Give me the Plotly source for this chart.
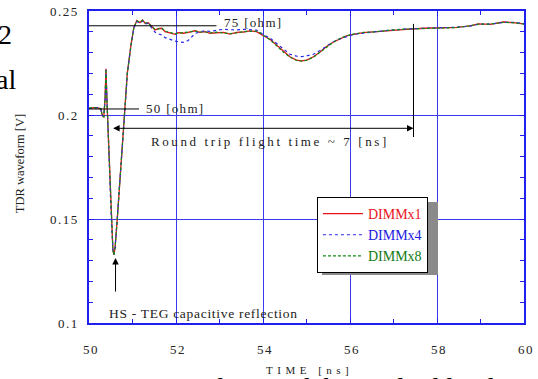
import plotly.graph_objects as go

# ---------------- data ----------------
t_ns = [50.00, 50.10, 50.20, 50.27, 50.31, 50.34, 50.37, 50.39, 50.41, 50.45,
        50.50, 50.55, 50.575, 50.60, 50.65, 50.72, 50.80, 50.88, 50.96, 51.03,
        51.10, 51.17, 51.23, 51.29, 51.36, 51.44, 51.52, 51.59, 51.67, 51.75,
        51.86, 51.98, 52.05, 52.17, 52.28, 52.44, 52.55, 52.67, 52.78, 52.94,
        53.09, 53.24, 53.40, 53.55, 53.70, 53.85, 53.93, 54.01, 54.16, 54.31,
        54.47, 54.62, 54.77, 54.89, 55.00, 55.16, 55.31, 55.46, 55.62, 55.77,
        55.92, 56.08, 56.31, 56.61, 56.92, 57.30, 57.69, 58.07, 58.45, 58.76,
        58.95, 59.22, 59.53, 59.76, 60.00]

dimm_x1 = [0.2032, 0.2035, 0.2034, 0.2030, 0.1995, 0.1992, 0.2080, 0.2222, 0.2080, 0.1850,
           0.1560, 0.1350, 0.1328, 0.1365, 0.1500, 0.1720, 0.1950, 0.2200, 0.2330, 0.2420,
           0.2454, 0.2444, 0.2457, 0.2441, 0.2444, 0.2425, 0.2409, 0.2415, 0.2417, 0.2401,
           0.2393, 0.2388, 0.2396, 0.2393, 0.2397, 0.2405, 0.2397, 0.2401, 0.2393, 0.2396,
           0.2397, 0.2389, 0.2397, 0.2399, 0.2404, 0.2401, 0.2393, 0.2381, 0.2364, 0.2336,
           0.2304, 0.2280, 0.2264, 0.2260, 0.2264, 0.2280, 0.2303, 0.2329, 0.2351, 0.2367,
           0.2380, 0.2388, 0.2396, 0.2401, 0.2407, 0.2412, 0.2417, 0.2418, 0.2421, 0.2428,
           0.2438, 0.2436, 0.2447, 0.2444, 0.2438]

dimm_x4 = [0.2031, 0.2034, 0.2035, 0.2029, 0.1996, 0.1993, 0.2075, 0.2218, 0.2085, 0.1855,
           0.1565, 0.1352, 0.1330, 0.1362, 0.1495, 0.1715, 0.1945, 0.2195, 0.2325, 0.2418,
           0.2450, 0.2442, 0.2452, 0.2438, 0.2440, 0.2420, 0.2398, 0.2390, 0.2385, 0.2372,
           0.2362, 0.2355, 0.2352, 0.2349, 0.2358, 0.2392, 0.2400, 0.2405, 0.2402, 0.2408,
           0.2412, 0.2410, 0.2409, 0.2412, 0.2410, 0.2408, 0.2398, 0.2385, 0.2370, 0.2345,
           0.2315, 0.2292, 0.2283, 0.2281, 0.2284, 0.2292, 0.2310, 0.2332, 0.2352, 0.2366,
           0.2378, 0.2387, 0.2394, 0.2402, 0.2408, 0.2414, 0.2416, 0.2419, 0.2422, 0.2427,
           0.2436, 0.2437, 0.2445, 0.2445, 0.2440]

dimm_x8 = [0.2033, 0.2036, 0.2033, 0.2031, 0.1994, 0.1991, 0.2078, 0.2220, 0.2082, 0.1852,
           0.1562, 0.1348, 0.1327, 0.1363, 0.1498, 0.1718, 0.1948, 0.2198, 0.2328, 0.2419,
           0.2452, 0.2446, 0.2455, 0.2443, 0.2442, 0.2427, 0.2411, 0.2413, 0.2419, 0.2403,
           0.2395, 0.2390, 0.2394, 0.2395, 0.2399, 0.2403, 0.2399, 0.2399, 0.2395, 0.2398,
           0.2395, 0.2391, 0.2395, 0.2401, 0.2402, 0.2403, 0.2395, 0.2383, 0.2362, 0.2334,
           0.2302, 0.2278, 0.2262, 0.2259, 0.2263, 0.2278, 0.2301, 0.2327, 0.2350, 0.2368,
           0.2381, 0.2389, 0.2397, 0.2400, 0.2408, 0.2413, 0.2416, 0.2419, 0.2420, 0.2429,
           0.2437, 0.2437, 0.2446, 0.2443, 0.2437]

x_ticks = [50, 52, 54, 56, 58, 60]
y_ticks = [0.10, 0.15, 0.20, 0.25]
y_tick_text = ["0.1", "0.15", "0.2", "0.25"]

# annotation values (data units)
z75_level, z75_end = 0.2429, 52.93
z50_level, z50_end = 0.2029, 51.15
trip_start, trip_end, trip_level = 50.52, 57.46, 0.1936
trip_marker_top, trip_marker_bottom = 0.2438, 0.1894
refl_t, refl_tip, refl_tail = 50.61, 0.1313, 0.1144

SERIF = "Liberation Serif, Times New Roman, serif"
BLUE = "#1f1fef"
GRID = "#3a3af0"


def tracked(s, px=1.5):
    return f"<span style='letter-spacing:{px}px'>{s}</span>"


def legend_name(s, color):
    return f"<span style='color:{color}'>{s}</span>"


fig = go.Figure()
fig.add_trace(go.Scatter(x=t_ns, y=dimm_x1, mode="lines",
                         name=legend_name("DIMMx1", "#e8121b"),
                         line=dict(color="#e8121b", width=1.3)))
fig.add_trace(go.Scatter(x=t_ns, y=dimm_x4, mode="lines",
                         name=legend_name("DIMMx4", "#2020e0"),
                         line=dict(color="#2a2ae8", width=1.2, dash="dot")))
fig.add_trace(go.Scatter(x=t_ns, y=dimm_x8, mode="lines",
                         name=legend_name("DIMMx8", "#137a13"),
                         line=dict(color="#138a13", width=1.2, dash="3px,2px")))

axis_common = dict(
    showline=True, linecolor=BLUE, linewidth=1.5, mirror="ticks",
    ticks="inside", ticklen=5, tickcolor=BLUE, tickwidth=1.2,
    showgrid=True, gridcolor=GRID, gridwidth=1, zeroline=False,
    automargin=False,
    tickfont=dict(family=SERIF, size=13, color="#222"),
)

fig.update_xaxes(range=[50, 60], tickvals=x_ticks,
                 ticktext=[tracked(str(v), 1.5) for v in x_ticks],
                 minor=dict(dtick=1, ticks="inside", ticklen=4, tickcolor=BLUE, showgrid=False),
                 ticklabelstandoff=14, ticklabelshift=2,
                 **axis_common)
fig.update_yaxes(range=[0.10, 0.25], tickvals=y_ticks,
                 ticktext=[tracked(s, 1.5) for s in y_tick_text],
                 minor=dict(dtick=0.01, ticks="inside", ticklen=4, tickcolor=BLUE, showgrid=False),
                 ticklabelstandoff=6,
                 **axis_common)

# reference lines
fig.add_shape(type="line", x0=50, x1=z75_end, y0=z75_level, y1=z75_level,
              line=dict(color="black", width=1))
fig.add_shape(type="line", x0=50, x1=z50_end, y0=z50_level, y1=z50_level,
              line=dict(color="black", width=1))
fig.add_shape(type="line", x0=trip_end, x1=trip_end, y0=trip_marker_bottom, y1=trip_marker_top,
              line=dict(color="black", width=1))

# legend drop shadow
fig.add_shape(type="rect", xref="paper", yref="paper",
              x0=0.5356, x1=0.8023, y0=0.1540, y1=0.3878,
              fillcolor="#8a8a8a", line=dict(width=0), layer="above")

lab_font = dict(family=SERIF, size=13, color="#222")
fig.add_annotation(x=53.06, y=0.2447, text=tracked("75 [ohm]", 1.3), showarrow=False,
                   xanchor="left", yanchor="middle", font=lab_font)
fig.add_annotation(x=51.27, y=0.2031, text=tracked("50 [ohm]", 1.3), showarrow=False,
                   xanchor="left", yanchor="middle", font=lab_font)
# double arrow
fig.add_annotation(x=trip_end, y=trip_level, ax=trip_start, ay=trip_level,
                   xref="x", yref="y", axref="x", ayref="y", text="",
                   showarrow=True, arrowside="end+start", arrowhead=2, startarrowhead=2,
                   arrowsize=1.3, startarrowsize=1.3, arrowwidth=1, arrowcolor="black")
fig.add_annotation(x=54.16, y=0.1872, text=tracked("Round trip flight time ~ 7 [ns]", 2.6),
                   showarrow=False, xanchor="center", yanchor="middle",
                   font=dict(family=SERIF, size=13, color="#222"))
# reflection arrow
fig.add_annotation(x=refl_t, y=refl_tip, ax=refl_t, ay=refl_tail,
                   xref="x", yref="y", axref="x", ayref="y", text="",
                   showarrow=True, arrowhead=2, arrowsize=1.3, arrowwidth=1, arrowcolor="black")
fig.add_annotation(x=50.41, y=0.1047,
                   text=tracked("HS-TEG capacitive reflection".replace("-", " - "), 0.7),
                   showarrow=False, xanchor="left", yanchor="middle",
                   font=dict(family=SERIF, size=13.5, color="#222"))

# axis titles
fig.add_annotation(xref="paper", yref="paper", x=-0.158, y=0.51, text="TDR waveform [V]",
                   textangle=-90, showarrow=False, xanchor="center", yanchor="middle",
                   font=dict(family=SERIF, size=12.5, color="#222"))
fig.add_annotation(xref="paper", yref="paper", x=0.506, y=-0.151, text=tracked("TIME [ns]", 4.5),
                   showarrow=False, xanchor="center", yanchor="middle",
                   font=dict(family=SERIF, size=11, color="#222"))

# cropped surrounding page text
big = dict(family=SERIF, size=28, color="black")
fig.add_annotation(xref="paper", yref="paper", x=-0.172, y=0.926, text="2",
                   showarrow=False, xanchor="right", yanchor="middle", font=big)
fig.add_annotation(xref="paper", yref="paper", x=-0.163, y=0.779, text="al",
                   showarrow=False, xanchor="right", yanchor="middle", font=big)
fig.add_annotation(xref="paper", yref="paper", x=0.0, y=-0.150,
                   text="TDR waveforms of the applied load",
                   showarrow=False, xanchor="left", yanchor="top", font=big)

fig.update_layout(
    width=538, height=379,
    margin=dict(l=89, r=14, t=11, b=56, autoexpand=False),
    paper_bgcolor="white", plot_bgcolor="white",
    showlegend=True,
    legend=dict(x=0.524, y=0.404, xanchor="left", yanchor="top",
                bgcolor="white", bordercolor="black", borderwidth=1,
                font=dict(family=SERIF, size=14), itemwidth=40,
                tracegroupgap=0),
)

fig.write_html("out.html",
               config={"displayModeBar": False},
               post_script="document.body.style.margin='0';document.body.style.padding='0';")
